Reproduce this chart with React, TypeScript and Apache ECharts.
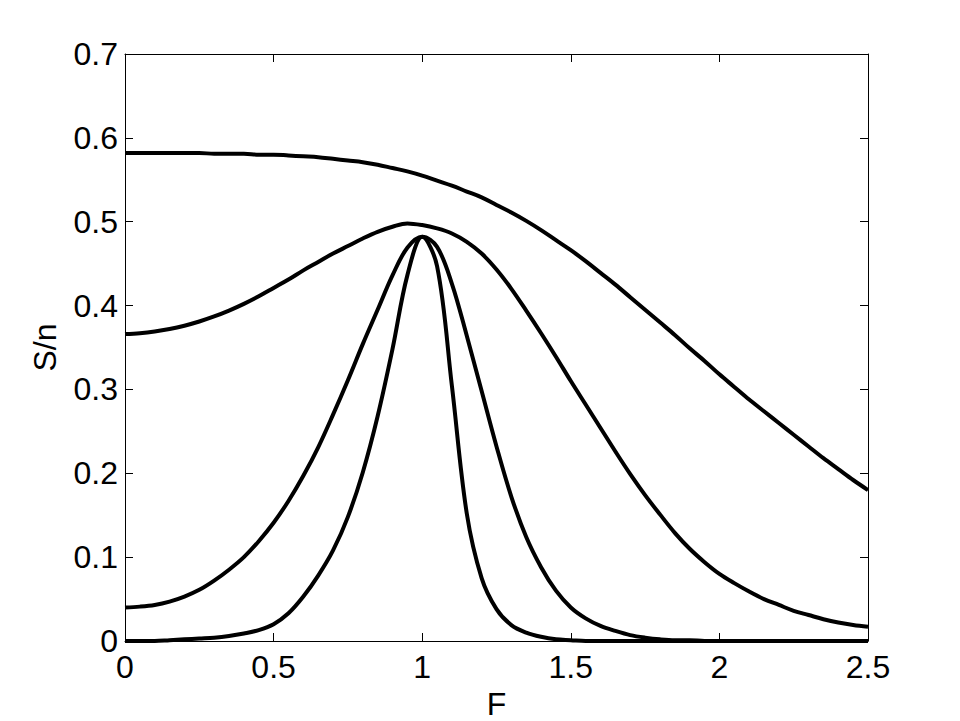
import React, { useRef, useEffect } from 'react';
import * as echarts from 'echarts';

// F grid (x values) shared by all curves
const fValues = [
  0, 0.05, 0.1, 0.15, 0.2, 0.25, 0.3, 0.35, 0.4, 0.45,
  0.5, 0.55, 0.6, 0.65, 0.7, 0.75, 0.8, 0.85, 0.9, 0.95,
  1.0, 1.05, 1.1, 1.15, 1.2, 1.25, 1.3, 1.35, 1.4, 1.45,
  1.5, 1.55, 1.6, 1.65, 1.7, 1.75, 1.8, 1.85, 1.9, 1.95,
  2.0, 2.05, 2.1, 2.15, 2.2, 2.25, 2.3, 2.35, 2.4, 2.45, 2.5,
];

// S/n, top to bottom
const curveA = [
  0.582, 0.582, 0.582, 0.582, 0.582, 0.582, 0.581, 0.581, 0.581, 0.580,
  0.580, 0.579, 0.578, 0.577, 0.575, 0.573, 0.571, 0.568, 0.564, 0.560,
  0.555, 0.549, 0.543, 0.536, 0.529, 0.520, 0.511, 0.501, 0.490, 0.478,
  0.466, 0.453, 0.439, 0.425, 0.410, 0.395, 0.380, 0.365, 0.349, 0.334,
  0.318, 0.303, 0.288, 0.274, 0.260, 0.246, 0.232, 0.218, 0.205, 0.192, 0.180,
];
const curveB = [
  0.366, 0.367, 0.369, 0.372, 0.376, 0.381, 0.387, 0.394, 0.402, 0.411,
  0.421, 0.431, 0.442, 0.452, 0.462, 0.471, 0.480, 0.488, 0.494, 0.498,
  0.496, 0.492, 0.486, 0.476, 0.462, 0.443, 0.420, 0.394, 0.367, 0.339,
  0.310, 0.282, 0.254, 0.226, 0.199, 0.174, 0.151, 0.129, 0.110, 0.094,
  0.080, 0.069, 0.059, 0.050, 0.043, 0.036, 0.031, 0.026, 0.022, 0.019, 0.017,
];
const curveC = [
  0.040, 0.041, 0.043, 0.047, 0.053, 0.061, 0.072, 0.085, 0.100, 0.119,
  0.141, 0.167, 0.197, 0.231, 0.270, 0.311, 0.354, 0.395, 0.436, 0.469,
  0.482, 0.470, 0.426, 0.364, 0.298, 0.232, 0.172, 0.124, 0.088, 0.060,
  0.040, 0.027, 0.018, 0.012, 0.007, 0.004, 0.002, 0.001, 0.001, 0.000,
  0.000, 0.000, 0.000, 0.000, 0.000, 0.000, 0.000, 0.000, 0.000, 0.000, 0.000,
];
const curveD = [
  0.000, 0.000, 0.000, 0.001, 0.002, 0.003, 0.004, 0.006, 0.009, 0.013,
  0.020, 0.033, 0.053, 0.078, 0.108, 0.148, 0.201, 0.268, 0.348, 0.436,
  0.482, 0.447, 0.304, 0.152, 0.075, 0.038, 0.019, 0.010, 0.005, 0.002,
  0.001, 0.000, 0.000, 0.000, 0.000, 0.000, 0.000, 0.000, 0.000, 0.000,
  0.000, 0.000, 0.000, 0.000, 0.000, 0.000, 0.000, 0.000, 0.000, 0.000, 0.000,
];

const curves = [curveA, curveB, curveC, curveD];

const FONT = '"Liberation Sans", Arial, Helvetica, sans-serif';

const axisCommon = {
  type: 'value' as const,
  axisLine: { show: true, onZero: false, lineStyle: { color: '#000', width: 1 } },
  axisTick: { show: true, inside: true, length: 8, lineStyle: { color: '#000', width: 1 } },
  splitLine: { show: false },
};

const App: React.FC = () => {
  const chartRef = useRef<HTMLDivElement>(null);

  useEffect(() => {
    let chart: echarts.ECharts | null = null;
    if (chartRef.current) {
      chart = echarts.init(chartRef.current, undefined, { renderer: 'svg' });
      const option: echarts.EChartsOption = {
        animation: false,
        backgroundColor: '#fff',
        grid: { left: 125, right: 92, top: 54, bottom: 80, outerBoundsMode: 'none' } as any,
        xAxis: [
          {
            ...axisCommon,
            position: 'bottom',
            min: 0,
            max: 2.5,
            interval: 0.5,
            name: 'F',
            nameLocation: 'middle',
            nameGap: 43,
            nameTextStyle: { fontSize: 32, color: '#000', fontFamily: FONT },
            axisLabel: {
              margin: 10,
              fontSize: 32,
              color: '#000',
              fontFamily: FONT,
              showMinLabel: true,
              showMaxLabel: true,
            },
          },
          {
            ...axisCommon,
            position: 'top',
            min: 0,
            max: 2.5,
            interval: 0.5,
            axisLabel: { show: false },
          },
        ],
        yAxis: [
          {
            ...axisCommon,
            position: 'left',
            min: 0,
            max: 0.7,
            interval: 0.1,
            name: 'S/n',
            nameLocation: 'middle',
            nameRotate: 90,
            nameGap: 64,
            nameTextStyle: { fontSize: 32, color: '#000', fontFamily: FONT },
            axisLabel: {
              margin: 7,
              fontSize: 32,
              color: '#000',
              fontFamily: FONT,
              showMinLabel: true,
              showMaxLabel: true,
            },
          },
          {
            ...axisCommon,
            position: 'right',
            min: 0,
            max: 0.7,
            interval: 0.1,
            axisLabel: { show: false },
          },
        ],
        series: curves.map((vals) => ({
          type: 'line',
          xAxisIndex: 0,
          yAxisIndex: 0,
          data: fValues.map((f, i) => [f, vals[i]]),
          showSymbol: false,
          smooth: 0.35,
          lineStyle: { color: '#000', width: 4 },
          itemStyle: { color: '#000' },
        })),
      };
      chart.setOption(option);
    }
    return () => {
      if (chart) {
        chart.dispose();
      }
    };
  }, []);

  return (
    <div
      ref={chartRef}
      style={{ position: 'fixed', left: 0, top: 0, width: '960px', height: '721px' }}
    />
  );
};

export default App;
